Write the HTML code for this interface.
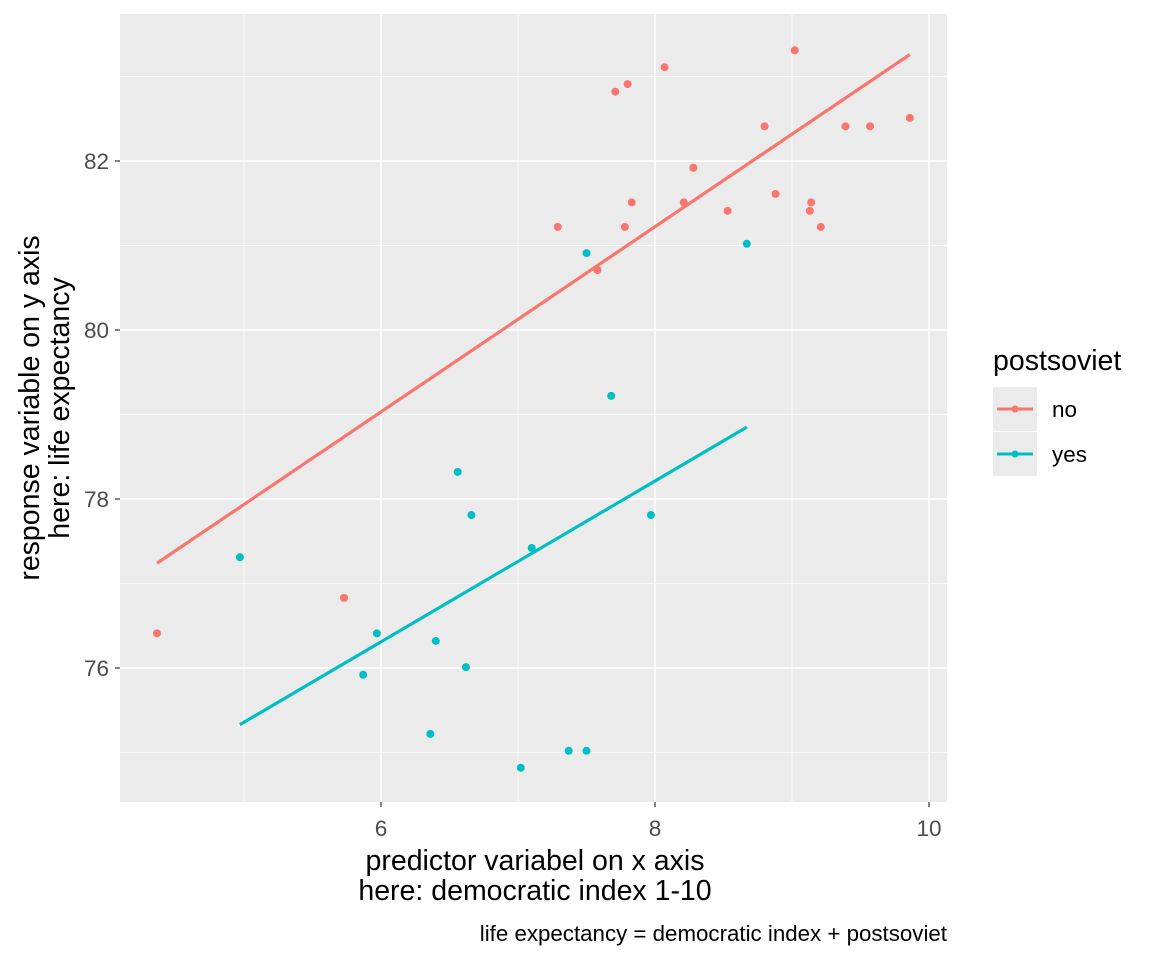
<!DOCTYPE html>
<html><head><meta charset="utf-8"><style>
body{margin:0;background:#fff;font-family:"Liberation Sans",Arial,sans-serif}
</style></head><body>
<svg id="chart" width="1152" height="960" xmlns="http://www.w3.org/2000/svg">
<rect x="0" y="0" width="1152" height="960" fill="#fff"/>
<rect x="120" y="14" width="827" height="788" fill="#EBEBEB"/>
<g id="grid"></g><g id="lines"></g><g id="points"></g><g id="axes"></g>
<text x="535" y="870" text-anchor="middle" font-size="28.5" fill="#000">predictor variabel on x axis</text>
<text x="535" y="900" text-anchor="middle" font-size="28.5" fill="#000">here: democratic index 1-10</text>
<g transform="translate(39,408) rotate(-90)">
<text x="0" y="0" text-anchor="middle" font-size="28.5" fill="#000">response variable on y axis</text>
<text x="0" y="30" text-anchor="middle" font-size="28.5" fill="#000">here: life expectancy</text>
</g>
<text x="947" y="941" text-anchor="end" font-size="22.3" fill="#000">life expectancy = democratic index + postsoviet</text>
<g>
<text x="993" y="370" font-size="28.5" fill="#000">postsoviet</text>
<rect x="993" y="387" width="44" height="44" fill="#EBEBEB"/>
<rect x="993" y="432" width="44" height="44" fill="#EBEBEB"/>
<g><line x1="997" y1="409" x2="1033" y2="409" stroke="#F8766D" stroke-width="3"/><circle cx="1015" cy="409" r="3.5" fill="#F8766D"/><text x="1052" y="417" font-size="22.5" fill="#000">no</text></g>
<g><line x1="997" y1="454" x2="1033" y2="454" stroke="#00BFC4" stroke-width="3"/><circle cx="1015" cy="454" r="3.5" fill="#00BFC4"/><text x="1052" y="462" font-size="22.5" fill="#000">yes</text></g>
</g>
</svg>
<script>
const noX=[4.365,5.73,7.29,7.58,7.71,7.80,7.78,7.83,8.07,8.21,8.28,8.53,8.80,8.88,9.02,9.14,9.13,9.21,9.39,9.57,9.86];
const noY=[76.41,76.83,81.22,80.71,82.82,82.91,81.22,81.51,83.11,81.51,81.92,81.41,82.41,81.61,83.31,81.51,81.41,81.22,82.41,82.41,82.51];
const yesX=[4.97,5.97,5.87,6.36,6.40,6.56,6.62,6.66,7.02,7.10,7.37,7.50,7.50,7.68,7.97,8.67];
const yesY=[77.31,76.41,75.92,75.22,76.32,78.32,76.01,77.81,74.82,77.42,75.02,75.02,80.91,79.22,77.81,81.02];
const noLineX=[4.365,9.86], noLineY=[77.24,83.26];
const yesLineX=[4.97,8.67], yesLineY=[75.33,78.85];
const xMajor=[6,8,10], xMinor=[5,7,9];
const yMajor=[76,78,80,82], yMinor=[75,77,79,81,83];
const xLabels=["6","8","10"], yLabels=["76","78","80","82"];
const NS="http://www.w3.org/2000/svg";
const sx=v=>381+(v-6)*137, sy=v=>668-(v-76)*84.5;
const L=120,R=947,T=14,B=802;
function mk(tag,attrs,parent){const e=document.createElementNS(NS,tag);for(const k in attrs)e.setAttribute(k,attrs[k]);parent.appendChild(e);return e;}
const grid=document.getElementById('grid');
xMinor.forEach(v=>{const e=mk('line',{x1:sx(v),x2:sx(v),y1:T,y2:B,stroke:'#fff','stroke-width':0.8},grid);

});
yMinor.forEach(v=>{const e=mk('line',{x1:L,x2:R,y1:sy(v),y2:sy(v),stroke:'#fff','stroke-width':0.8},grid);

});
xMajor.forEach(v=>{const e=mk('line',{x1:sx(v),x2:sx(v),y1:T,y2:B,stroke:'#fff','stroke-width':1.6},grid);

});
yMajor.forEach(v=>{const e=mk('line',{x1:L,x2:R,y1:sy(v),y2:sy(v),stroke:'#fff','stroke-width':1.6},grid);

});
const axes=document.getElementById('axes');
xMajor.forEach((v,i)=>{mk('line',{x1:sx(v),x2:sx(v),y1:B,y2:B+5,stroke:'#333','stroke-width':1.2},axes);
const t=mk('text',{x:sx(v),y:B+34,'text-anchor':'middle','font-size':22.5,fill:'#4D4D4D'},axes);t.textContent=xLabels[i];

});
yMajor.forEach((v,i)=>{mk('line',{x1:L-5,x2:L,y1:sy(v),y2:sy(v),stroke:'#333','stroke-width':1.2},axes);
const t=mk('text',{x:L-11,y:sy(v)+8,'text-anchor':'end','font-size':22.5,fill:'#4D4D4D'},axes);t.textContent=yLabels[i];

});
const lines=document.getElementById('lines');
[[noLineX,noLineY,'#F8766D','fit-line-no'],[yesLineX,yesLineY,'#00BFC4','fit-line-yes']].forEach(([xs,ys,c,n])=>{
const e=mk('line',{x1:sx(xs[0]),y1:sy(ys[0]),x2:sx(xs[1]),y2:sy(ys[1]),stroke:c,'stroke-width':3.2},lines);

});
const pts=document.getElementById('points');
noX.forEach((x,i)=>{const e=mk('circle',{cx:sx(x),cy:sy(noY[i]),r:4,fill:'#F8766D'},pts);

});
yesX.forEach((x,i)=>{const e=mk('circle',{cx:sx(x),cy:sy(yesY[i]),r:4,fill:'#00BFC4'},pts);

});
</script>
</body></html>
